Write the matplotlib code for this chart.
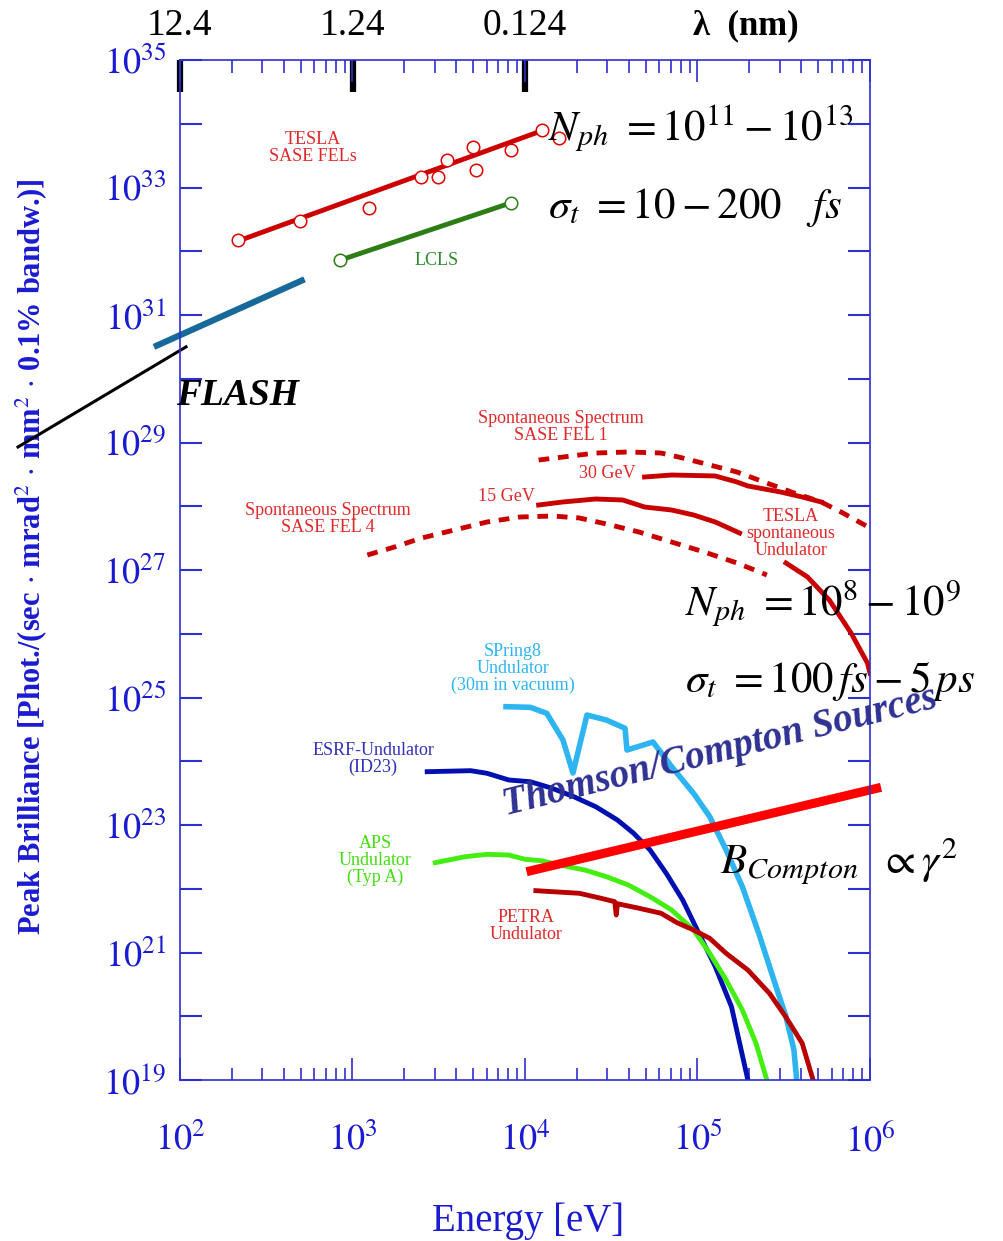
import numpy as np
import matplotlib
matplotlib.use('Agg')
import matplotlib.pyplot as plt
from matplotlib.ticker import FixedLocator, FixedFormatter, NullFormatter, NullLocator, LogLocator

plt.rcParams['font.family'] = ['Liberation Serif', 'DejaVu Serif']
plt.rcParams['mathtext.fontset'] = 'stix'

# ---- data (log10 of energy [eV] and peak brilliance) ----
# TESLA SASE FEL design points and the fit line through them
tesla_logE = [2.336, 2.696, 3.096, 3.397, 3.496, 3.548, 3.699, 3.716, 3.919, 4.099, 4.197]
tesla_logB = [32.18, 32.47, 32.68, 33.16, 33.16, 33.43, 33.64, 33.27, 33.59, 33.90, 33.78]
tesla_fit_logE = [2.336, 4.087]
tesla_fit_logB = [32.16, 33.88]

# LCLS
lcls_logE = [2.928, 3.919]
lcls_logB = [31.86, 32.76]

# FLASH (measured) and its extrapolation
flash_logE = [1.849, 2.722]
flash_logB = [30.50, 31.56]
flash_ext_logE = [1.061, 2.035]
flash_ext_logB = [28.93, 30.50]

# spontaneous spectra
sf1_logE = [4.079, 4.410, 4.599, 4.788, 4.914, 5.071, 5.229, 5.386, 5.544, 5.717, 5.843, 6.0]
sf1_logB = [28.725, 28.835, 28.851, 28.835, 28.757, 28.647, 28.537, 28.380, 28.224, 28.067, 27.894, 27.659]

gev30_logE = [4.693, 4.850, 5.103, 5.229, 5.292, 5.481, 5.607, 5.717]
gev30_logB = [28.459, 28.490, 28.475, 28.380, 28.318, 28.224, 28.145, 28.067]

gev15_logE = [4.079, 4.219, 4.410, 4.567, 4.693, 4.850, 4.977, 5.103, 5.244]
gev15_logB = [28.020, 28.067, 28.114, 28.098, 27.988, 27.941, 27.863, 27.753, 27.580]

tspont_logE = [5.513, 5.638, 5.764, 5.890, 5.985, 6.0]
tspont_logB = [27.110, 26.890, 26.529, 26.012, 25.541, 25.384]

sf4_logE = [3.086, 3.244, 3.401, 3.590, 3.780, 3.969, 4.158, 4.315, 4.472, 4.661, 4.850, 5.039, 5.229, 5.402]
sf4_logB = [27.235, 27.361, 27.502, 27.627, 27.753, 27.831, 27.847, 27.816, 27.722, 27.596, 27.439, 27.282, 27.110, 26.922]

# storage ring undulators
spring8_logE = [3.890, 4.031, 4.126, 4.220, 4.278, 4.359, 4.472, 4.580, 4.591, 4.742, 4.850,
                4.977, 5.071, 5.166, 5.260, 5.355, 5.449, 5.513, 5.559, 5.575]
spring8_logB = [24.856, 24.846, 24.752, 24.333, 23.816, 24.725, 24.647, 24.517, 24.176, 24.302,
                23.915, 23.497, 23.130, 22.608, 22.032, 21.301, 20.517, 19.993, 19.471, 19.0]

esrf_logE = [3.433, 3.685, 3.780, 3.906, 4.031, 4.158, 4.283, 4.410, 4.536, 4.630, 4.725, 4.819,
             4.914, 5.008, 5.103, 5.197, 5.292]
esrf_logB = [23.836, 23.852, 23.811, 23.706, 23.679, 23.575, 23.444, 23.287, 23.078, 22.870, 22.608,
             22.242, 21.824, 21.301, 20.778, 20.150, 19.0]

aps_logE = [3.480, 3.653, 3.780, 3.906, 4.0, 4.094, 4.220, 4.347, 4.472, 4.599, 4.725, 4.850,
            4.977, 5.071, 5.166, 5.260, 5.339, 5.402]
aps_logB = [22.409, 22.503, 22.540, 22.529, 22.462, 22.440, 22.362, 22.294, 22.189, 22.059, 21.875,
            21.667, 21.353, 20.987, 20.569, 20.098, 19.576, 19.0]

petra_logE = [4.063, 4.158, 4.315, 4.441, 4.520, 4.529, 4.536, 4.661, 4.788, 4.882, 4.977, 5.071,
              5.166, 5.292, 5.417, 5.511, 5.607, 5.670]
petra_logB = [21.970, 21.954, 21.929, 21.850, 21.797, 21.588, 21.765, 21.694, 21.616, 21.467, 21.353,
              21.222, 20.987, 20.725, 20.360, 19.993, 19.576, 19.0]

# Thomson/Compton scaling line
compton_logE = [4.009, 6.064]
compton_logB = [22.267, 23.591]

ytick_exp = list(range(19, 36))
xtick_exp = [2, 3, 4, 5, 6]
lam_ticks = [12.4, 1.24, 0.124]
lam_labels = ['12.4', '1.24', '0.124']
HC = 1240.0  # eV nm


def p(e, b):
    return 10 ** np.array(e), 10 ** np.array(b)


fig = plt.figure(figsize=(10.04, 12.41), dpi=100)
ax = fig.add_axes([180 / 1004, 1 - 1080 / 1241, 690 / 1004, 1020 / 1241])
ax.set_xscale('log')
ax.set_yscale('log')
ax.set_xlim(1e2, 1e6)
ax.set_ylim(1e19, 1e35)

blue = '#2f2fd0'
red = '#c80000'

# FELs
x, y = p(tesla_fit_logE, tesla_fit_logB)
ax.plot(x, y, color='#cc0000', lw=3.5, solid_capstyle='butt')
x, y = p(tesla_logE, tesla_logB)
ax.plot(x, y, 'o', mfc='white', mec='#dd0000', ms=9, mew=1.1)
x, y = p(lcls_logE, lcls_logB)
ax.plot(x, y, color='#2d7d16', lw=3.5, marker='o', mfc='white', mec='#2d7d16', ms=9, mew=1.1)
x, y = p(flash_logE, flash_logB)
ax.plot(x, y, color='#17699a', lw=4.5, clip_on=False, solid_capstyle='butt')
x, y = p(flash_ext_logE, flash_ext_logB)
ax.plot(x, y, color='black', lw=2.2, clip_on=False)

# spontaneous
x, y = p(sf1_logE, sf1_logB)
ax.plot(x, y, color=red, lw=3.5, dashes=(2.2, 1.8))
x, y = p(gev30_logE, gev30_logB)
ax.plot(x, y, color=red, lw=3.5)
x, y = p(gev15_logE, gev15_logB)
ax.plot(x, y, color=red, lw=3.5)
x, y = p(tspont_logE, tspont_logB)
ax.plot(x, y, color=red, lw=3.5)
x, y = p(sf4_logE, sf4_logB)
ax.plot(x, y, color=red, lw=3.5, dashes=(2.2, 1.8))

# undulators
x, y = p(spring8_logE, spring8_logB)
ax.plot(x, y, color='#2eb4f0', lw=4)
x, y = p(esrf_logE, esrf_logB)
ax.plot(x, y, color='#0010b0', lw=3.5)
x, y = p(aps_logE, aps_logB)
ax.plot(x, y, color='#44ee11', lw=3.5)
x, y = p(petra_logE, petra_logB)
ax.plot(x, y, color='#b80000', lw=3.5)

x, y = p(compton_logE, compton_logB)
ax.plot(x, y, color='#ff0000', lw=6.5, clip_on=False, solid_capstyle='butt')

# small labels
def lab(s, le, lb, c, fs=13):
    ax.text(10 ** le, 10 ** lb, s, color=c, fontsize=fs, ha='center', va='center',
            linespacing=1.0)

lab('TESLA\nSASE FELs', 2.771, 33.62, '#dd2a2a')
lab('LCLS', 3.490, 31.86, '#2f8a2f')
lab('Spontaneous Spectrum\nSASE FEL 1', 4.209, 29.24, '#dd2a2a')
lab('30 GeV', 4.475, 28.52, '#dd2a2a')
lab('15 GeV', 3.890, 28.15, '#dd2a2a')
lab('Spontaneous Spectrum\nSASE FEL 4', 2.858, 27.80, '#dd2a2a')
lab('TESLA\nspontaneous\nUndulator', 5.542, 27.58, '#dd2a2a')
lab('SPring8\nUndulator\n(30m in vacuum)', 3.930, 25.46, '#2eb4f0')
lab('ESRF-Undulator\n(ID23)', 3.119, 24.04, '#3030b8')
lab('APS\nUndulator\n(Typ A)', 3.130, 22.44, '#44dd11')
lab('PETRA\nUndulator', 4.006, 21.42, '#dd2a2a')

ax.text(10 ** 2.336, 10 ** 29.73, 'FLASH', fontsize=27, fontweight='bold', fontstyle='italic',
        ha='center', va='center', color='black')

# formulas
big = 31
ax.text(10 ** 4.133, 10 ** 33.745, r'$N_{ph}\ =10^{11}-10^{13}$', fontsize=big, va='baseline',
        clip_on=False)
ax.text(10 ** 4.133, 10 ** 32.52, r'$\sigma_t\ =10-200\ \ \ fs$', fontsize=big, va='baseline',
        clip_on=False)
ax.text(10 ** 4.928, 10 ** 26.29, r'$N_{ph}\ =10^{8}-10^{9}$', fontsize=big, va='baseline',
        clip_on=False)
ax.text(10 ** 4.928, 10 ** 25.09, r'$\sigma_t\ =100\,fs-5\,ps$', fontsize=big, va='baseline',
        clip_on=False)
ax.text(10 ** 5.130, 10 ** 22.25, r'$B_{Compton}\ \ \propto\gamma^2$', fontsize=big, va='baseline',
        clip_on=False)
ax.text(10 ** 5.13, 10 ** 24.15, 'Thomson/Compton Sources', fontsize=28, fontweight='bold',
        fontstyle='italic', color='#2e3192', rotation=14, rotation_mode='anchor',
        ha='center', va='center')

# axes styling
for s in ax.spines.values():
    s.set_color(blue)
    s.set_linewidth(1.2)

ax.xaxis.set_major_locator(FixedLocator([10.0 ** k for k in xtick_exp]))
ax.xaxis.set_major_formatter(FixedFormatter([r'$10^{%d}$' % k for k in xtick_exp]))
ax.xaxis.set_minor_locator(LogLocator(subs=np.arange(2, 10)))
ax.xaxis.set_minor_formatter(NullFormatter())
ax.yaxis.set_major_locator(FixedLocator([10.0 ** k for k in ytick_exp]))
ax.yaxis.set_major_formatter(FixedFormatter(
    [r'$10^{%d}$' % k if (k - 19) % 2 == 0 else '' for k in ytick_exp]))
ax.yaxis.set_minor_locator(NullLocator())

ax.tick_params(axis='x', which='major', direction='in', length=16, width=1.2, color=blue,
               top=True, bottom=True, labelsize=26, labelcolor='#1a1ad0', pad=31)
ax.tick_params(axis='x', which='minor', direction='in', length=9, width=1.2, color=blue,
               top=True, bottom=True)
ax.tick_params(axis='y', which='major', direction='in', length=16, width=1.5, color=blue,
               left=True, right=True, labelsize=26, labelcolor='#1a1ad0', pad=10)

ax.set_xlabel('Energy [eV]', fontsize=28, color='#1a1ad0')
ax.xaxis.set_label_coords(0.504, -0.12)
ax.set_ylabel(r'Peak Brilliance [Phot./(sec$\,\cdot\,$mrad$^2\,\cdot\,$mm$^2\,\cdot\,$0.1% bandw.)]',
              fontsize=22, color='#1a1ad0', fontweight='bold')
ax.yaxis.set_label_coords(-0.19, 0.513)

# wavelength axis on top
sec = ax.secondary_xaxis('top', functions=(lambda e: HC / e, lambda l: HC / l))
sec.set_xticks(lam_ticks, labels=lam_labels)
sec.xaxis.set_minor_locator(NullLocator())
sec.tick_params(axis='x', which='major', direction='in', length=23, width=4.5, color='black',
                labelsize=27, pad=12)
sec.spines['top'].set_visible(False)
ax.text(0.82, 1.034, 'λ  (nm)', transform=ax.transAxes, fontsize=25, fontweight='bold',
        ha='center', va='center')

fig.savefig('out.png', dpi=100)
